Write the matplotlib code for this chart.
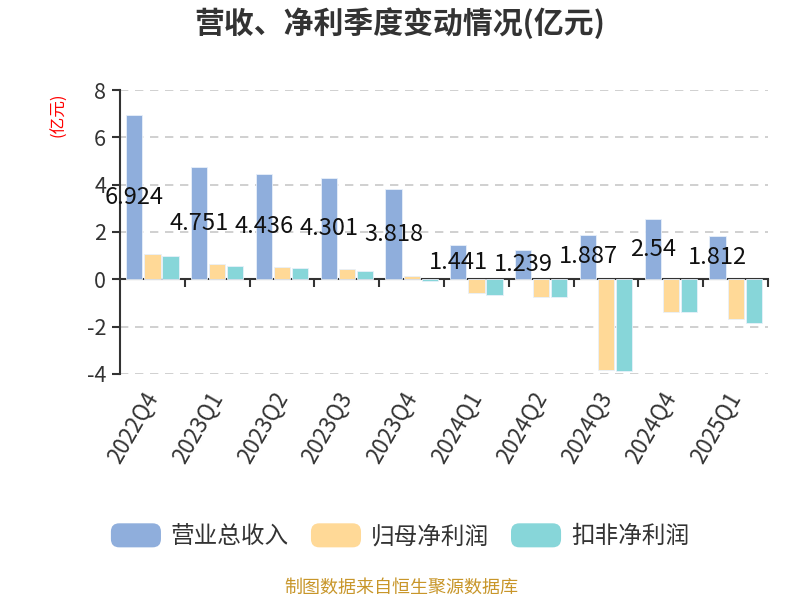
import matplotlib
matplotlib.use("Agg")
import matplotlib.pyplot as plt
from matplotlib.patches import FancyBboxPatch, Patch
from matplotlib.legend_handler import HandlerPatch
import numpy as np

plt.rcParams['font.family'] = ['Noto Sans CJK SC', 'DejaVu Sans']

categories = ["2022Q4", "2023Q1", "2023Q2", "2023Q3", "2023Q4",
              "2024Q1", "2024Q2", "2024Q3", "2024Q4", "2025Q1"]
revenue = [6.924, 4.751, 4.436, 4.301, 3.818, 1.441, 1.239, 1.887, 2.54, 1.812]
net_profit = [1.06, 0.64, 0.52, 0.42, 0.13, -0.58, -0.75, -3.82, -1.36, -1.66]
deducted_profit = [1.00, 0.57, 0.48, 0.34, -0.06, -0.67, -0.74, -3.89, -1.39, -1.84]
series_names = ["营业总收入", "归母净利润", "扣非净利润"]
colors = ["#8FAEDC", "#FFD997", "#87D6D9"]
yticks = [-4, -2, 0, 2, 4, 6, 8]

fig = plt.figure(figsize=(8, 6), dpi=100)
ax = fig.add_axes([0.15, 0.3767, 0.81, 0.4733])

x = np.arange(len(categories))
w = 0.25
off = 0.278
bars = []
for i, (vals, c) in enumerate(zip([revenue, net_profit, deducted_profit], colors)):
    b = ax.bar(x + (i - 1) * off, vals, width=w, color=c, edgecolor="#E8F0FA",
               linewidth=0.6, label=series_names[i], zorder=3)
    bars.append(b)

ax.bar_label(bars[0], labels=[f"{v:g}" for v in revenue], label_type="center",
             fontsize=17, color="#111111", zorder=5)

ax.set_xlim(-0.5, len(categories) - 0.5)
ax.set_ylim(-4, 8)
ax.set_yticks(yticks)
ax.set_yticklabels([str(t) for t in yticks], fontsize=15.5, color="#333333")

for yv in yticks:
    if yv != 0:
        ax.axhline(yv, color="#C8C8C8", linewidth=1.2, linestyle=(0, (5, 4)), zorder=1)

for s in ["top", "right", "bottom"]:
    ax.spines[s].set_visible(False)
ax.spines["left"].set_color("#333333")
ax.spines["left"].set_linewidth(1.5)
ax.tick_params(axis="y", length=6, width=1.5, color="#333333", pad=4)

ax.set_xticks(x)
ax.set_xticklabels(categories, rotation=60, ha="right", va="center",
                   rotation_mode="anchor", fontsize=16, color="#333333")
ax.tick_params(axis="x", length=0, pad=14)

sec = ax.secondary_xaxis(1 / 3)
sec.set_xticks(np.arange(len(categories)) + 0.5)
sec.set_xticklabels([])
sec.tick_params(axis="x", length=6, width=1.5, color="#333333")
sec.spines["bottom"].set_color("#333333")
sec.spines["bottom"].set_linewidth(1.5)

fig.text(0.074, 0.808, "(亿元)", rotation=90, color="red", fontsize=12,
         ha="center", va="center")

fig.text(0.5, 0.962, "营收、净利季度变动情况(亿元)", fontsize=21.5, fontweight="bold",
         color="#333333", ha="center", va="center")


class RoundHandler(HandlerPatch):
    def create_artists(self, legend, orig_handle, xdescent, ydescent, width, height,
                       fontsize, trans):
        p = FancyBboxPatch((-xdescent, -ydescent), width, height,
                           boxstyle="round,pad=0,rounding_size=6",
                           facecolor=orig_handle.get_facecolor(), edgecolor="none",
                           transform=trans)
        return [p]


handles = [Patch(facecolor=c, label=n) for c, n in zip(colors, series_names)]
fig.legend(handles=handles, loc="center", bbox_to_anchor=(0.5, 0.107),
           ncol=3, frameon=False, fontsize=17, handlelength=2.12, handleheight=1.19,
           handletextpad=0.42, columnspacing=0.93,
           handler_map={Patch: RoundHandler()}, labelcolor="#333333")

fig.text(0.501, 0.02, "制图数据来自恒生聚源数据库", fontsize=13, color="#C8962A",
         ha="center", va="center")

fig.savefig("out.png", dpi=100)
